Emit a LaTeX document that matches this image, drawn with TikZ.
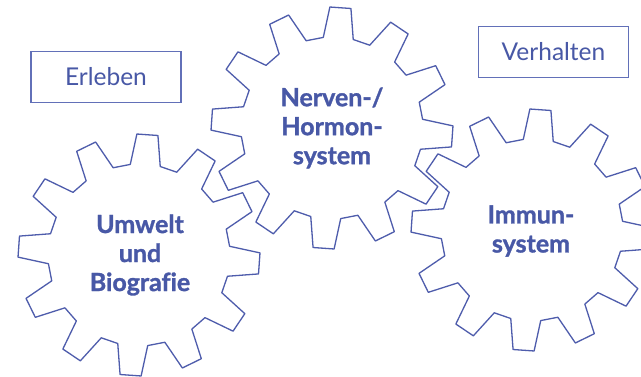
\documentclass[tikz,border=0pt]{standalone}
\usepackage{fontspec}
\setmainfont{Lato}[Ligatures=NoCommon]
\newfontfamily\heavyfont{Lato Bold}[Ligatures=NoCommon, FakeBold=1.2]
\definecolor{gearblue}{RGB}{78,92,172}
\definecolor{textblue}{RGB}{72,88,166}
\definecolor{boxblue}{RGB}{98,112,184}
\tikzset{
  gear/.style={draw=gearblue, line width=1.3pt, line join=round},
  geartext/.style={text=textblue, font=\fontsize{25}{29}\selectfont\heavyfont, align=center},
  labelbox/.style={draw=boxblue, line width=1.2pt, text=textblue, font=\fontsize{24.5}{28}\selectfont, minimum width=150pt, minimum height=51pt, inner sep=0pt}
}
\newcommand{\drawgear}[2]{%
  \begin{scope}[shift={#1}, rotate=#2]
    \draw[gear] (-20.5:91) \foreach \a in {0,30,...,330} { -- (\a-9.5:91) -- (\a-5:121) -- (\a+5:121) -- (\a+9.5:91) } -- cycle;
  \end{scope}}
\begin{document}
\begin{tikzpicture}[x=1pt,y=1pt]
\useasboundingbox (0,0) rectangle (641,376);
\fill[white] (0,0) rectangle (641,376);
% gears (y = 376 - image y)
\drawgear{(139,121)}{-4}
\drawgear{(332,248)}{-4}
\drawgear{(532,146)}{-4}
\node[geartext] (umwelt) at (140,121) {Umwelt\\und\\Biografie};
\node[geartext] (nerven) at (332,248) {Nerven-/\\Hormon-\\system};
\node[geartext] (immun) at (531,145) {Immun-\\system};
\node[labelbox] (erleben) at (106,299) {Erleben};
\node[labelbox] (verhalten) at (553.5,324) {Verhalten};
\end{tikzpicture}
\end{document}
